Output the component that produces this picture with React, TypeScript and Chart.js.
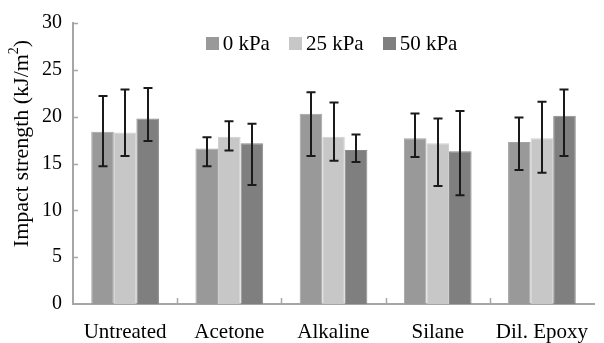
import React, { useEffect, useRef } from 'react';
import { Chart, registerables } from 'chart.js';

Chart.register(...registerables);

// ---- data ----
const categories = ['Untreated', 'Acetone', 'Alkaline', 'Silane', 'Dil. Epoxy'];
const seriesLabels = ['0 kPa', '25 kPa', '50 kPa'];

const kpa0 = [18.4, 16.6, 20.3, 17.7, 17.3];
const kpa0Low = [14.7, 14.7, 15.8, 15.7, 14.3];
const kpa0High = [22.2, 17.8, 22.6, 20.35, 19.9];

const kpa25 = [18.3, 17.85, 17.85, 17.15, 17.7];
const kpa25Low = [15.8, 16.4, 15.3, 12.6, 14.0];
const kpa25High = [22.9, 19.5, 21.5, 19.8, 21.6];

const kpa50 = [19.8, 17.15, 16.45, 16.3, 20.1];
const kpa50Low = [17.4, 12.7, 15.15, 11.6, 15.8];
const kpa50High = [23.05, 19.25, 18.1, 20.6, 22.9];

const yTickStep = 5;
const yMin = 0;
const yMax = 30;
const yTitleMain = 'Impact strength (kJ/m';
const yTitleSup = '2';
const yTitleEnd = ')';

const FONT = '"Liberation Serif", "Times New Roman", serif';
const AXIS = '#a6a6a6';

export default function App() {
  const ref = useRef<HTMLCanvasElement | null>(null);

  useEffect(() => {
    document.body.style.margin = '0';
    const canvas = ref.current;
    if (!canvas) return;

    const series = [
      { label: seriesLabels[0], data: kpa0, low: kpa0Low, high: kpa0High, color: '#999999', border: '#a3a3a3' },
      { label: seriesLabels[1], data: kpa25, low: kpa25Low, high: kpa25High, color: '#c6c7c6', border: '#cfd0cf' },
      { label: seriesLabels[2], data: kpa50, low: kpa50Low, high: kpa50High, color: '#7f7f7f', border: '#8a8a8a' },
    ];

    const errorBars = {
      id: 'errorBars',
      afterDatasetsDraw(chart: any) {
        const ctx = chart.ctx;
        const y = chart.scales.y;
        ctx.save();
        ctx.strokeStyle = '#1a1a1a';
        ctx.lineWidth = 2;
        series.forEach((s, di) => {
          const meta = chart.getDatasetMeta(di);
          meta.data.forEach((bar: any, i: number) => {
            const x = Math.round(bar.x);
            const yl = y.getPixelForValue(s.low[i]);
            const yh = y.getPixelForValue(s.high[i]);
            ctx.beginPath();
            ctx.moveTo(x, yh);
            ctx.lineTo(x, yl);
            ctx.moveTo(x - 4.5, yh);
            ctx.lineTo(x + 4.5, yh);
            ctx.moveTo(x - 4.5, yl);
            ctx.lineTo(x + 4.5, yl);
            ctx.stroke();
          });
        });
        ctx.restore();
      },
    };

    const decor = {
      id: 'decor',
      afterDraw(chart: any) {
        const ctx = chart.ctx;
        const area = chart.chartArea;
        const xs = chart.scales.x;
        const ys = chart.scales.y;
        ctx.save();
        // inward ticks
        ctx.strokeStyle = AXIS;
        ctx.lineWidth = 1.5;
        ys.ticks.forEach((t: any) => {
          if (t.value === yMin) return;
          const py = Math.round(ys.getPixelForValue(t.value)) + 0.5;
          ctx.beginPath();
          ctx.moveTo(area.left, py);
          ctx.lineTo(area.left + 5, py);
          ctx.stroke();
        });
        for (let i = 1; i < categories.length; i++) {
          const px = Math.round((xs.getPixelForValue(i - 1) + xs.getPixelForValue(i)) / 2) + 0.5;
          ctx.beginPath();
          ctx.moveTo(px, area.bottom);
          ctx.lineTo(px, area.bottom - 6);
          ctx.stroke();
        }

        // legend
        ctx.font = `21px ${FONT}`;
        ctx.textBaseline = 'middle';
        ctx.textAlign = 'left';
        const box = 13;
        const gap = 4;
        const spacing = 19;
        const widths = series.map((s) => ctx.measureText(s.label).width);
        const total = widths.reduce((a, w) => a + box + gap + w, 0) + spacing * (series.length - 1);
        let lx = (area.left + area.right) / 2 - 2 - total / 2;
        const ly = 43;
        series.forEach((s, i) => {
          ctx.fillStyle = s.color;
          ctx.fillRect(Math.round(lx), Math.round(ly - box / 2), box, box);
          ctx.fillStyle = '#000';
          ctx.fillText(s.label, lx + box + gap, ly + 1);
          lx += box + gap + widths[i] + spacing;
        });

        // y axis title with superscript
        ctx.translate(22, 143.5);
        ctx.rotate(-Math.PI / 2);
        ctx.fillStyle = '#000';
        ctx.font = `22px ${FONT}`;
        const w1 = ctx.measureText(yTitleMain).width;
        const w3 = ctx.measureText(yTitleEnd).width;
        ctx.font = `14px ${FONT}`;
        const w2 = ctx.measureText(yTitleSup).width;
        let tx = -(w1 + w2 + w3) / 2;
        ctx.font = `22px ${FONT}`;
        ctx.fillText(yTitleMain, tx, 0);
        tx += w1;
        ctx.font = `14px ${FONT}`;
        ctx.fillText(yTitleSup, tx, -8);
        tx += w2;
        ctx.font = `22px ${FONT}`;
        ctx.fillText(yTitleEnd, tx, 0);
        ctx.restore();
      },
    };

    const chart = new Chart(canvas, {
      type: 'bar',
      data: {
        labels: categories,
        datasets: series.map((s) => ({
          label: s.label,
          data: s.data,
          backgroundColor: s.color,
          borderColor: s.border,
          borderWidth: 1,
          categoryPercentage: 0.65,
          barPercentage: 1,
        })),
      },
      options: {
        animation: false,
        responsive: false,
        maintainAspectRatio: false,
        layout: { padding: { top: 15.5, right: -2.5, left: 0, bottom: 0 } },
        plugins: { legend: { display: false }, tooltip: { enabled: false } },
        scales: {
          x: {
            grid: { display: false, drawTicks: false },
            border: { color: AXIS, width: 2 },
            ticks: { font: { family: FONT, size: 21 }, color: '#000', padding: 16, maxRotation: 0, autoSkip: false },
            afterFit: (s: any) => { s.height = 39; },
          },
          y: {
            min: yMin,
            max: yMax,
            grid: { display: false, drawTicks: false },
            border: { color: AXIS, width: 2 },
            ticks: { stepSize: yTickStep, font: { family: FONT, size: 20 }, color: '#000', padding: 11 },
            afterFit: (s: any) => { s.width = 73; },
          },
        },
      },
      plugins: [errorBars, decor],
    } as any);

    return () => chart.destroy();
  }, []);

  return <canvas ref={ref} width={604} height={343} style={{ display: 'block', width: 604, height: 343 }} />;
}
